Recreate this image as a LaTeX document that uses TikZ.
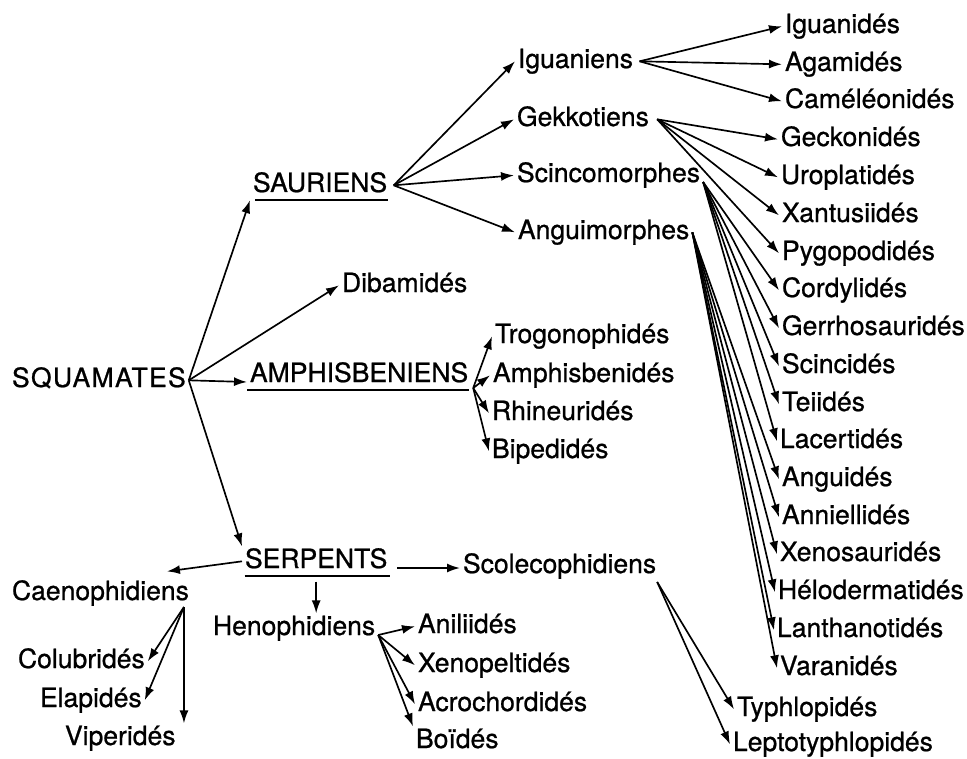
\documentclass[tikz,border=0pt]{standalone}
\usepackage{fontspec}
\setmainfont{TeX Gyre Heros}[FakeBold=0.8]
\usetikzlibrary{arrows.meta}

\begin{document}
\begin{tikzpicture}[x=0.2mm,y=-0.2mm,
  lbl/.style={anchor=base west,inner sep=1.5pt,text height=10.6pt,text depth=3pt,
    font=\fontsize{15.1}{18}\selectfont},
  arr/.style={-{Latex[length=2.6mm,width=1.8mm]},line width=0.95pt}]
\useasboundingbox (0,0) rectangle (967,759);
% main groups
\node[lbl] (sq) at (9,387) {\addfontfeature{LetterSpace=5}SQUAMATES};
\node[lbl] (sau) at (250,192) {SAURIENS};
\node[lbl] (dib) at (339,292) {Dibamidés};
\node[lbl] (amp) at (247,382) {AMPHISBENIENS};
\node[lbl] (serp) at (242,568) {SERPENTS};
\draw[line width=0.95pt] ([xshift=3pt]sau.south west) -- ([xshift=-1.5pt]sau.south east);
\draw[line width=0.95pt] (amp.south west) -- ([xshift=-1.5pt]amp.south east);
\draw[line width=0.95pt] ([xshift=1.5pt]serp.south west) -- (serp.south east);
% sauriens
\node[lbl] (igs) at (515,68) {Iguaniens};
\node[lbl] (gek) at (514,126) {Gekkotiens};
\node[lbl] (scm) at (514,182) {Scincomorphes};
\node[lbl] (angm) at (515,239) {Anguimorphes};
\node[lbl] (igd) at (782,33) {Iguanidés};
\node[lbl] (aga) at (782,71) {Agamidés};
\node[lbl] (cam) at (782,108) {Caméléonidés};
\node[lbl] (gec) at (778,146) {Geckonidés};
\node[lbl] (uro) at (778,184) {Uroplatidés};
\node[lbl] (xan) at (779,222) {Xantusiidés};
\node[lbl] (pyg) at (779,260) {Pygopodidés};
\node[lbl] (cor) at (779,297) {Cordylidés};
\node[lbl] (ger) at (779,335) {Gerrhosauridés};
\node[lbl] (sci) at (779,373) {Scincidés};
\node[lbl] (tei) at (779,411) {Teiidés};
\node[lbl] (lac) at (777,448) {Lacertidés};
\node[lbl] (agd) at (779,486) {Anguidés};
\node[lbl] (ann) at (779,524) {Anniellidés};
\node[lbl] (xes) at (777,561) {Xenosauridés};
\node[lbl] (hel) at (775,599) {Hélodermatidés};
\node[lbl] (lan) at (774,637) {Lanthanotidés};
\node[lbl] (var) at (777,675) {Varanidés};
% amphisbeniens
\node[lbl] (tro) at (492,343) {Trogonophidés};
\node[lbl] (amd) at (490,382) {Amphisbenidés};
\node[lbl] (rhi) at (489,420) {Rhineuridés};
\node[lbl] (bip) at (489,458) {Bipedidés};
% serpents
\node[lbl] (scol) at (460,573) {Scolecophidiens};
\node[lbl] (caen) at (9,600) {Caenophidiens};
\node[lbl] (heno) at (210,635) {Henophidiens};
\node[lbl] (col) at (15,668) {Colubridés};
\node[lbl] (ela) at (37,707) {Elapidés};
\node[lbl] (vip) at (62,745) {Viperidés};
\node[lbl] (ani) at (415,633) {Aniliidés};
\node[lbl] (xep) at (415,672) {Xenopeltidés};
\node[lbl] (acr) at (415,711) {Acrochordidés};
\node[lbl] (boi) at (413,748) {Boïdés};
\node[lbl] (typ) at (734,716) {Typhlopidés};
\node[lbl] (lep) at (730,751) {Leptotyphlopidés};
\coordinate (cf) at ([shift={(-8,7)}]caen.base east);
% arrows
\draw[arr] (sq.east) -- (sau.south west);
\draw[arr] (sq.east) -- (dib.west);
\draw[arr] (sq.east) -- (amp.base west);
\draw[arr] (sq.east) -- (serp.north west);
\foreach \t in {igs,gek,scm,angm} \draw[arr] ([xshift=2pt]sau.east) -- (\t.west);
\foreach \t in {igd,aga,cam} \draw[arr] ([xshift=2pt]igs.east) -- (\t.west);
\foreach \t in {gec,uro,xan,pyg} \draw[arr] ([xshift=3pt]gek.east) -- (\t.west);
\foreach \t in {cor,ger,sci,tei,lac} \draw[arr] (scm.base east) -- (\t.west);
\foreach \t in {agd,ann,xes,hel,lan,var} \draw[arr] (angm.east) -- (\t.west);
\foreach \t in {tro,amd,rhi,bip} \draw[arr] ([shift={(2,6)}]amp.base east) -- (\t.west);
\draw[arr] ([xshift=4pt]serp.base east) -- (serp.base east -| scol.west);
\draw[arr] (serp.west) -- ([shift={(-25,-7)}]caen.north east);
\draw[arr] ([yshift=-3pt]serp.south) -- (serp.south |- heno.north);
\draw[arr] (cf) -- (col.east);
\draw[arr] (cf) -- (ela.east);
\draw[arr] (cf) -- (cf |- vip.north);
\foreach \t in {ani,xep,acr} \draw[arr] (heno.base east) -- (\t.west);
\draw[arr] (heno.base east) -- (boi.north west);
\draw[arr] ([shift={(-2,9)}]scol.base east) -- (typ.west);
\draw[arr] ([shift={(-2,9)}]scol.base east) -- (lep.west);
\end{tikzpicture}
\end{document}
